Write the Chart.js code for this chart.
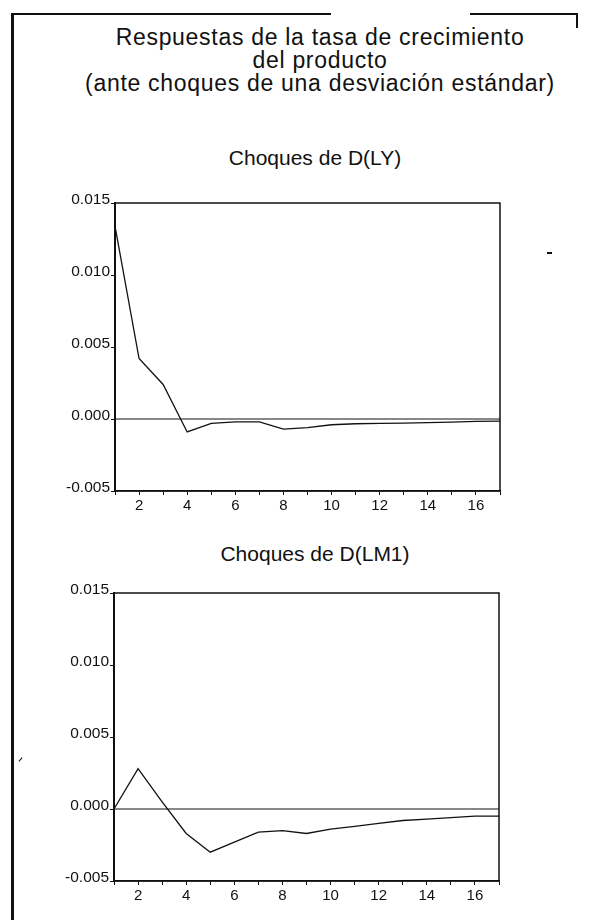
<!DOCTYPE html>
<html>
<head>
<meta charset="utf-8">
<script src="https://cdn.jsdelivr.net/npm/chart.js@4/dist/chart.umd.min.js"></script>
<style>
  body { margin: 0; width: 600px; height: 920px; background: #fff; position: relative; overflow: hidden;
         font-family: "Liberation Sans", Arial, sans-serif; color: #111; }
  .frame { position: absolute; background: #111; }
  .title { position: absolute; left: 0; width: 640px; top: 26px; text-align: center;
           font-size: 23px; line-height: 23px; letter-spacing: 0.7px; }
  .sub { position: absolute; left: 0; width: 630px; text-align: center; font-size: 21px; line-height: 21px; }
  canvas { position: absolute; left: 0; }
  .speck { position: absolute; background: #111; }
</style>
</head>
<body>
<div class="frame" style="left:11px;top:13px;width:3px;height:907px"></div>
<div class="frame" style="left:11px;top:13px;width:320px;height:2px"></div>
<div class="frame" style="left:470px;top:13px;width:108px;height:2px"></div>
<div class="frame" style="left:576px;top:13px;width:2px;height:15px"></div>

<div class="title">Respuestas de la tasa de crecimiento<br>del producto<br>(ante choques de una desviación estándar)</div>

<div class="sub" style="top:147px">Choques de D(LY)</div>
<canvas id="chartLY" width="600" height="330" style="top:190px"></canvas>

<div class="sub" style="top:543px">Choques de D(LM1)</div>
<canvas id="chartLM1" width="600" height="330" style="top:580px"></canvas>

<div class="speck" style="left:547px;top:252px;width:5px;height:2px"></div>
<div class="speck" style="left:20px;top:757px;width:1px;height:5px;transform:rotate(40deg)"></div>

<script>
// periods after the shock
const periods = [1, 2, 3, 4, 5, 6, 7, 8, 9, 10, 11, 12, 13, 14, 15, 16, 17];
const xTickLabels = [2, 4, 6, 8, 10, 12, 14, 16];
const yTicks = [-0.005, 0.000, 0.005, 0.010, 0.015];

// response of output growth to a D(LY) shock
const respLY = [0.0134, 0.0042, 0.0024, -0.0009, -0.0003, -0.0002, -0.0002, -0.0007, -0.0006,
                -0.0004, -0.00033, -0.0003, -0.00028, -0.00025, -0.00022, -0.00017, -0.00015];
// response of output growth to a D(LM1) shock
const respLM1 = [0.0, 0.0028, 0.0005, -0.0017, -0.0030, -0.0023, -0.0016, -0.0015, -0.0017,
                 -0.0014, -0.0012, -0.0010, -0.0008, -0.0007, -0.0006, -0.0005, -0.0005];

const ink = '#111';
const tickFont = '"Liberation Sans", Arial, sans-serif';

// zero line + box around the plot area
const framePlugin = {
  id: 'frame',
  beforeDatasetsDraw(chart) {
    const { ctx, chartArea: a, scales: { y } } = chart;
    const y0 = y.getPixelForValue(0);
    ctx.save();
    ctx.strokeStyle = ink;
    ctx.lineWidth = 1.2;
    ctx.beginPath();
    ctx.moveTo(a.left, y0);
    ctx.lineTo(a.right, y0);
    ctx.stroke();
    ctx.lineWidth = 1.5;
    ctx.strokeRect(a.left, a.top, a.right - a.left, a.bottom - a.top);
    ctx.restore();
  }
};

function makeChart(id, values, left, right) {
  const ctx = document.getElementById(id).getContext('2d');
  return new Chart(ctx, {
    type: 'line',
    data: {
      datasets: [{
        data: periods.map((p, i) => ({ x: p, y: values[i] })),
        borderColor: ink,
        borderWidth: 1.3,
        pointRadius: 0,
        tension: 0,
        fill: false
      }]
    },
    options: {
      responsive: false,
      animation: false,
      devicePixelRatio: 1,
      layout: { padding: { top: 13, right: 600 - right, bottom: 0, left: 0 } },
      plugins: { legend: { display: false }, tooltip: { enabled: false } },
      scales: {
        x: {
          type: 'linear',
          min: 1,
          max: 17,
          afterFit: (s) => { s.height = 29; },
          grid: { drawOnChartArea: false, drawTicks: true, tickLength: 4, color: ink, lineWidth: 1 },
          border: { display: true, color: ink, width: 1.5 },
          ticks: {
            stepSize: 1,
            autoSkip: false,
            maxRotation: 0,
            padding: 2,
            color: ink,
            font: { family: tickFont, size: 15 },
            callback: (v) => xTickLabels.includes(v) ? String(v) : ''
          }
        },
        y: {
          min: yTicks[0],
          max: yTicks[yTicks.length - 1],
          afterFit: (s) => { s.width = left; },
          grid: { drawOnChartArea: false, drawTicks: true, tickLength: 4, color: ink, lineWidth: 1 },
          border: { display: true, color: ink, width: 2 },
          ticks: {
            stepSize: 0.005,
            padding: 1,
            labelOffset: -3,
            color: ink,
            font: { family: tickFont, size: 15.5 },
            callback: (v) => Number(v).toFixed(3)
          }
        }
      }
    },
    plugins: [framePlugin]
  });
}

makeChart('chartLY', respLY, 115, 500);
makeChart('chartLM1', respLM1, 114, 499);
</script>
</body>
</html>
